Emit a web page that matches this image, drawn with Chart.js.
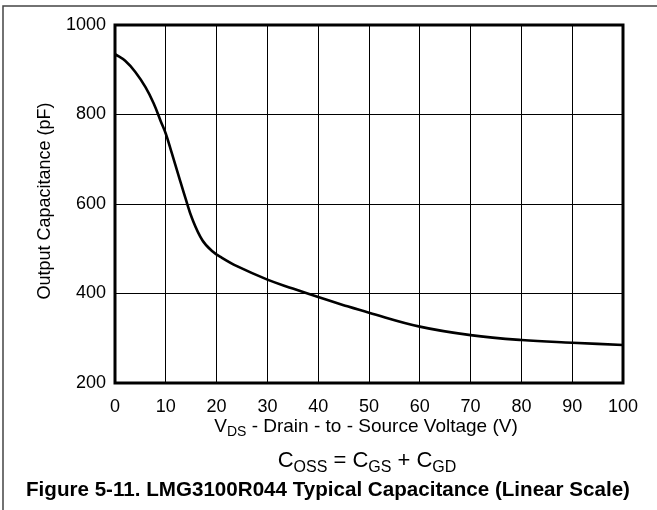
<!DOCTYPE html>
<html>
<head>
<meta charset="utf-8">
<script src="https://cdn.jsdelivr.net/npm/chart.js@4.4.1/dist/chart.umd.min.js"></script>
<style>
  html, body { margin: 0; padding: 0; background: #fff; }
  #wrap { width: 657px; height: 510px; position: relative; }
</style>
</head>
<body>
<div id="wrap"><canvas id="cossChart"></canvas></div>
<script>
// Curve
const vdsValues = [0, 2, 4, 6, 7.6, 9, 10, 11.2, 12.5, 13.9, 15.2, 17.2, 19.1, 21, 24, 30, 35, 40, 45, 50, 60, 70, 80, 90, 100];
const cossValues = [935, 920, 895, 861, 825, 785, 757, 713, 664, 612, 567, 519, 495, 480, 461, 431, 411, 392, 374, 357, 326, 307, 296, 290, 285];
const xTicks = [0, 10, 20, 30, 40, 50, 60, 70, 80, 90, 100];
const yTicks = [200, 400, 600, 800, 1000];

const FONT = "'Liberation Sans', Arial, sans-serif";

// Draw text made of [text, isSubscript] pieces, centred on cx
function drawRich(ctx, parts, cx, y, size) {
  const subSize = Math.round(size * 0.72);
  let total = 0;
  parts.forEach(p => {
    ctx.font = (p[1] ? subSize : size) + "px " + FONT;
    total += ctx.measureText(p[0]).width;
  });
  let x = cx - total / 2;
  ctx.textAlign = "left";
  ctx.textBaseline = "alphabetic";
  parts.forEach(p => {
    ctx.font = (p[1] ? subSize : size) + "px " + FONT;
    ctx.fillText(p[0], x, p[1] ? y + size * 0.22 : y);
    x += ctx.measureText(p[0]).width;
  });
}

const decorations = {
  id: 'decorations',
  afterDraw(chart) {
    const ctx = chart.ctx;
    const area = chart.chartArea;
    ctx.save();

    // outer frame (top and left only)
    ctx.strokeStyle = "#444";
    ctx.lineWidth = 1.5;
    ctx.beginPath();
    ctx.moveTo(3, 510);
    ctx.lineTo(3, 6);
    ctx.lineTo(657, 6);
    ctx.stroke();

    // heavy plot border
    ctx.strokeStyle = "#000";
    ctx.lineWidth = 3;
    ctx.strokeRect(area.left, area.top, area.right - area.left, area.bottom - area.top);

    ctx.fillStyle = "#000";
    const cx = (area.left + area.right) / 2;

    // y axis title
    ctx.save();
    ctx.translate(45, 201);
    ctx.rotate(-Math.PI / 2);
    ctx.font = "18px " + FONT;
    ctx.textAlign = "center";
    ctx.textBaseline = "middle";
    ctx.fillText("Output Capacitance (pF)", 0, 0);
    ctx.restore();

    // x axis title
    drawRich(ctx, [["V", false], ["DS", true], [" - Drain - to - Source Voltage (V)", false]], cx - 3, 432, 19);

    // capacitance relation
    drawRich(ctx, [["C", false], ["OSS", true], [" = C", false], ["GS", true], [" + C", false], ["GD", true]], cx - 2, 467, 22);

    // figure caption
    ctx.font = "bold 20.6px " + FONT;
    ctx.textAlign = "center";
    ctx.textBaseline = "middle";
    ctx.fillText("Figure 5-11. LMG3100R044 Typical Capacitance (Linear Scale)", 328, 490);

    ctx.restore();
  }
};

const ctx = document.getElementById("cossChart").getContext("2d");
new Chart(ctx, {
  type: 'line',
  data: {
    datasets: [{
      data: vdsValues.map((v, i) => ({ x: v, y: cossValues[i] })),
      borderColor: '#000',
      borderWidth: 2.6,
      pointRadius: 0,
      fill: false,
      tension: 0.4
    }]
  },
  options: {
    responsive: true,
    maintainAspectRatio: false,
    animation: false,
    devicePixelRatio: 1,
    layout: { padding: { top: 25, right: 34, bottom: 0, left: 0 } },
    plugins: {
      legend: { display: false },
      tooltip: { enabled: false }
    },
    scales: {
      x: {
        type: 'linear',
        min: 0,
        max: 100,
        afterBuildTicks(scale) { scale.ticks = xTicks.map(v => ({ value: v })); },
        afterFit(scale) { scale.height = 127; },
        grid: { color: '#000', lineWidth: 1, drawTicks: false },
        border: { display: false },
        ticks: {
          color: '#000',
          padding: 13,
          maxRotation: 0,
          callback: v => String(v),
          font: { family: FONT, size: 18 }
        }
      },
      y: {
        min: 200,
        max: 1000,
        afterBuildTicks(scale) { scale.ticks = yTicks.map(v => ({ value: v })); },
        afterFit(scale) { scale.width = 115; },
        grid: { color: '#000', lineWidth: 1, drawTicks: false },
        border: { display: false },
        ticks: {
          color: '#000',
          padding: 9,
          callback: v => String(v),
          font: { family: FONT, size: 18 }
        }
      }
    }
  },
  plugins: [decorations]
});
</script>
</body>
</html>
